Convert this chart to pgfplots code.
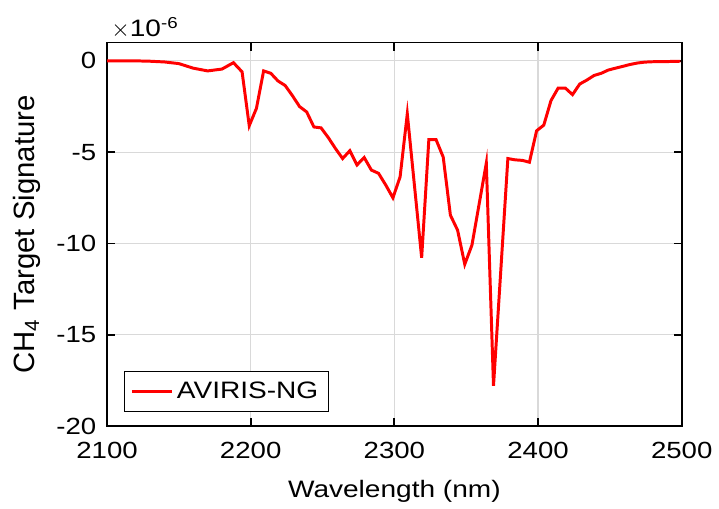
\documentclass[border=0pt]{standalone}
\usepackage{pgfplots}
\pgfplotsset{compat=1.18}
\usepackage{fontspec}
\setmainfont{Liberation Sans}[FakeStretch=1.18]
\newfontfamily\ylabfont{Liberation Sans}

\pgfplotstableread{
x y
2100 0
2110 0
2120 0
2130 -0.02
2140 -0.06
2150 -0.15
2160 -0.40
2170 -0.55
2180 -0.45
2188 -0.10
2194 -0.60
2199 -3.55
2204 -2.60
2209 -0.55
2214 -0.68
2219 -1.10
2224 -1.35
2229 -1.90
2234 -2.50
2239 -2.80
2244 -3.62
2249 -3.67
2254 -4.20
2259 -4.80
2264 -5.35
2269 -4.92
2274 -5.70
2279 -5.29
2284 -5.98
2289 -6.16
2294 -6.80
2299 -7.50
2304 -6.35
2309 -2.90
2319 -10.78
2324 -4.31
2329 -4.31
2334 -5.27
2339 -8.45
2344 -9.27
2349 -11.14
2354 -10.09
2364 -5.60
2369 -17.80
2379 -5.35
2384 -5.42
2389 -5.45
2394 -5.55
2399 -3.83
2404 -3.52
2409 -2.18
2414 -1.49
2419 -1.49
2424 -1.85
2429 -1.27
2434 -1.05
2439 -0.80
2444 -0.68
2449 -0.50
2454 -0.40
2459 -0.30
2464 -0.20
2469 -0.12
2474 -0.07
2479 -0.05
2484 -0.04
2489 -0.04
2494 -0.03
2499 -0.02
}\sigdata

\begin{document}
\begin{tikzpicture}
% fix the page to the reference proportions
\path (-54pt,-37pt) rectangle (305.5pt,215pt);
\begin{axis}[
    scale only axis,
    width=290pt, height=193.5pt,
    xmin=2100, xmax=2500,
    ymin=-20, ymax=1,
    xtick={2100,2200,...,2500},
    ytick={-20,-15,-10,-5,0},
    grid=major,
    major grid style={black!15, line width=0.6pt},
    every axis/.append style={line width=0.9pt},
    every tick/.style={black, line width=0.9pt},
    tick align=inside,
    tick pos=both,
    major tick length=4pt,
    xticklabel style={font=\fontsize{11.8}{14}\selectfont, anchor=base, yshift=-16.5pt},
    yticklabel style={font=\fontsize{11.8}{14}\selectfont, anchor=east, inner sep=0pt, xshift=-5pt},
    /pgf/number format/assume math mode=true,
    /pgf/number format/set thousands separator={},
    xlabel={Wavelength (nm)},
    ylabel={CH\textsubscript{4} Target Signature},
    every axis x label/.style={at={(rel axis cs:0.5,-0.185)}, anchor=base,
        font=\fontsize{12}{14}\selectfont},
    every axis y label/.style={at={(rel axis cs:-0.139,0.5)}, anchor=center,
        rotate=90, font=\ylabfont\fontsize{14.8}{17}\selectfont},
    legend style={at={(rel axis cs:0.0293,0.037)}, anchor=south west, draw=black,
        line width=0.6pt, font=\fontsize{12}{14}\selectfont,
        inner xsep=3pt, inner ysep=3pt},
    legend cell align=left,
    legend image code/.code={\draw[#1] (0pt,0pt) -- (20pt,0pt);},
]
\addplot[color=red, line width=1.5pt] table[x=x, y=y] {\sigdata};
\addlegendentry{AVIRIS-NG}
\end{axis}
\node[anchor=base west, inner sep=0pt, font=\fontsize{12}{14}\selectfont]
    at (2pt,196.5pt) {$\times$10\textsuperscript{-6}};
\end{tikzpicture}
\end{document}
